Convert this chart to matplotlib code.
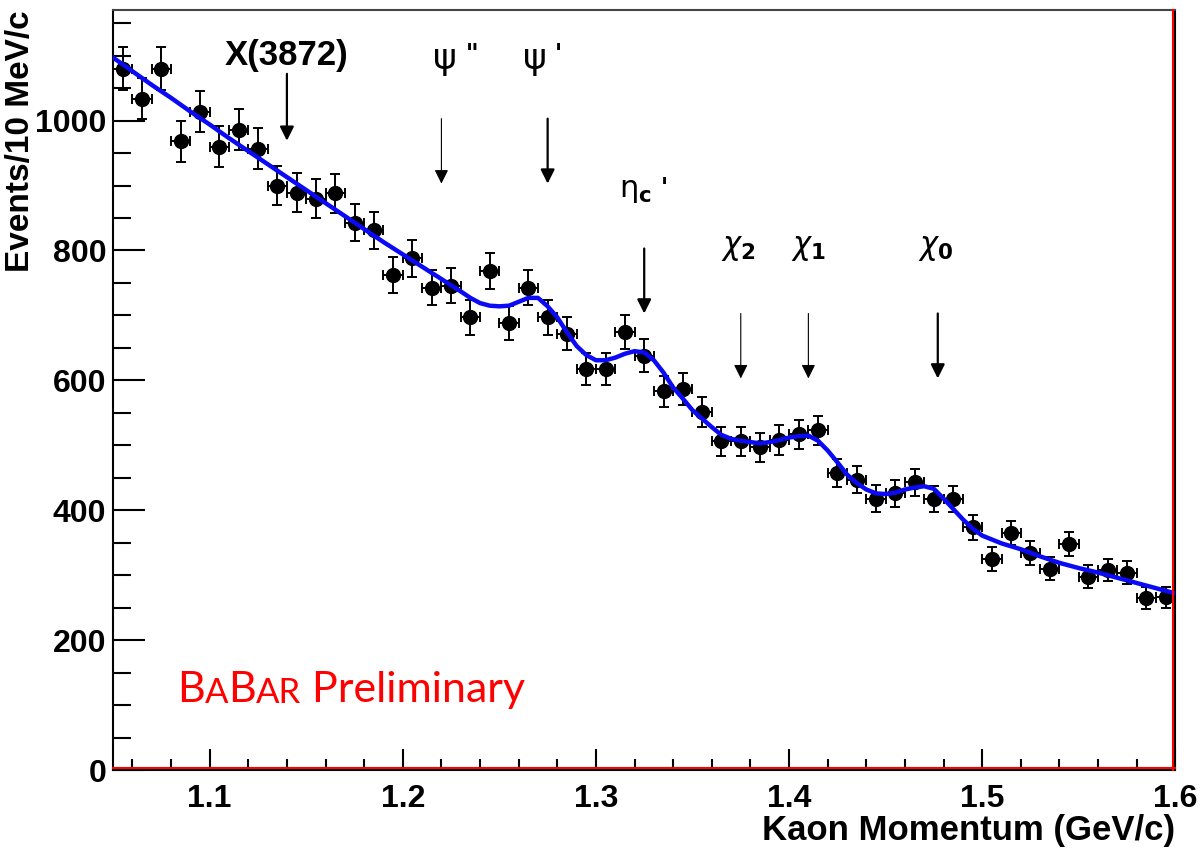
import numpy as np
import matplotlib
matplotlib.use('Agg')
import matplotlib.pyplot as plt
from matplotlib.ticker import MultipleLocator, FixedLocator
from matplotlib.transforms import offset_copy

plt.rcParams['font.family'] = ['Liberation Sans', 'DejaVu Sans']
plt.rcParams['mathtext.fontset'] = 'dejavusans'
plt.rcParams['mathtext.default'] = 'regular'

# bin centres (GeV/c) and events per 10 MeV/c
momentum = [1.055, 1.065, 1.075, 1.085, 1.095, 1.105, 1.115, 1.125, 1.135, 1.145,
            1.155, 1.165, 1.175, 1.185, 1.195, 1.205, 1.215, 1.225, 1.235, 1.245,
            1.255, 1.265, 1.275, 1.285, 1.295, 1.305, 1.315, 1.325, 1.335, 1.345,
            1.355, 1.365, 1.375, 1.385, 1.395, 1.405, 1.415, 1.425, 1.435, 1.445,
            1.455, 1.465, 1.475, 1.485, 1.495, 1.505, 1.515, 1.525, 1.535, 1.545,
            1.555, 1.565, 1.575, 1.585, 1.595]
events = [1080, 1034, 1080, 968, 1014, 960, 986, 957, 900, 889,
          880, 888, 843, 831, 762, 788, 743, 746, 697, 768,
          688, 743, 697, 672, 617, 618, 674, 638, 583, 587,
          551, 506, 506, 497, 508, 517, 523, 457, 447, 418,
          426, 443, 417, 417, 374, 325, 365, 334, 310, 348,
          298, 308, 304, 265, 266]

# fit curve
fit_x = [1.05, 1.06, 1.07, 1.08, 1.09, 1.10, 1.11, 1.12, 1.13, 1.14, 1.15, 1.16,
         1.17, 1.18, 1.19, 1.20, 1.21, 1.22, 1.23, 1.235, 1.24, 1.245, 1.25, 1.255,
         1.26, 1.265, 1.27, 1.275, 1.28, 1.285, 1.29, 1.295, 1.30, 1.305, 1.31,
         1.315, 1.32, 1.325, 1.33, 1.335, 1.34, 1.345, 1.35, 1.355, 1.36, 1.365,
         1.37, 1.375, 1.38, 1.385, 1.39, 1.395, 1.40, 1.405, 1.41, 1.415, 1.42,
         1.425, 1.43, 1.435, 1.44, 1.445, 1.45, 1.455, 1.46, 1.465, 1.47, 1.475,
         1.48, 1.485, 1.49, 1.495, 1.50, 1.51, 1.52, 1.53, 1.54, 1.55, 1.56, 1.57,
         1.58, 1.59, 1.60]
fit_y = [1097, 1076, 1055, 1035, 1014, 994, 973, 953, 933, 913, 893, 873,
         853, 833, 813, 794, 775, 756, 737, 727, 719, 715, 714, 715,
         721, 727, 727, 714, 697, 674, 653, 639, 631, 631, 635,
         641, 645, 643, 631, 612, 589, 572, 554, 541, 528, 516,
         510, 507, 505, 503, 505, 508, 512, 514, 515, 507, 492,
         474, 455, 442, 432, 426, 425, 427, 432, 435, 437, 433,
         418, 402, 386, 372, 361, 349, 340, 329, 319, 311, 304, 296,
         288, 280, 272]

# resonance markers
res_labels = ['X(3872)', 'ψ', 'ψ', '$\\eta_\\mathbf{c}$',
              '$\\mathit{\\chi}_\\mathbf{2}$', '$\\mathit{\\chi}_\\mathbf{1}$',
              '$\\mathit{\\chi}_\\mathbf{0}$']
res_primes = ['', '"', "'", "'", '', '', '']
res_x = [1.14, 1.22, 1.275, 1.325, 1.375, 1.41, 1.477]
res_label_x = [1.14, 1.2155, 1.262, 1.312, 1.3646, 1.401, 1.467]
res_label_y = [1100, 1095, 1095, 892, 803, 803, 803]
res_size = [25, 26, 26, 22, 22, 22, 22]
arrow_top = [1072, 1003, 1003, 803, 703, 703, 703]
arrow_bottom = [969, 903, 903, 703, 603, 603, 603]
arrow_lw = [1.6, 0.8, 1.6, 1.6, 0.8, 0.8, 1.6]

fig = plt.figure(figsize=(12.03, 8.49), dpi=100)
ax = fig.add_axes([0.094, 0.093, 0.883, 0.895])

ax.errorbar(momentum, events, xerr=0.005, yerr=np.sqrt(events), fmt='o',
            color='black', ms=10, elinewidth=1.4, capsize=3.5, capthick=1.4, zorder=3)
ax.plot(fit_x, fit_y, color='#0a0af5', lw=3.2, zorder=4)

for i, lab in enumerate(res_labels):
    if i == 0:
        ax.text(res_label_x[i], res_label_y[i], lab, ha='center', va='center',
                fontsize=res_size[i], fontweight='bold')
    else:
        t = ax.text(res_label_x[i], res_label_y[i], lab, ha='left', va='center',
                    fontsize=res_size[i], family=['DejaVu Sans'])
        if res_primes[i]:
            ax.annotate(' ' + res_primes[i], xy=(1, 1), xycoords=t, ha='left',
                        va='top', fontsize=18, fontweight='bold',
                        family=['DejaVu Sans'])
    ax.annotate('', xy=(res_x[i], arrow_bottom[i]), xytext=(res_x[i], arrow_top[i]),
                arrowprops=dict(arrowstyle='-|>,head_length=0.6,head_width=0.3',
                                color='black', lw=arrow_lw[i], mutation_scale=14,
                                shrinkA=0, shrinkB=0))

ax.set_xlim(1.05, 1.6)
ax.set_ylim(0, 1170)
ax.xaxis.set_major_locator(FixedLocator([1.1, 1.2, 1.3, 1.4, 1.5, 1.6]))
ax.xaxis.set_minor_locator(MultipleLocator(0.02))
ax.yaxis.set_major_locator(MultipleLocator(200))
ax.yaxis.set_minor_locator(MultipleLocator(50))
ax.set_xticklabels(['1.1', '1.2', '1.3', '1.4', '1.5', '1.6'])
ax.tick_params(axis='x', which='major', direction='in', length=15, width=1.5,
               labelsize=23, pad=10)
ax.tick_params(axis='x', which='minor', direction='in', length=8, width=1.5)
ax.tick_params(axis='y', which='major', direction='in', length=23, width=1.5,
               labelsize=23, pad=5)
ax.tick_params(axis='y', which='minor', direction='in', length=13, width=1.5)
for lab in ax.get_xticklabels() + ax.get_yticklabels():
    lab.set_fontweight('bold')

for s in ax.spines.values():
    s.set_linewidth(1.5)
    s.set_color('black')
ax.spines['top'].set_color('#444444')
# red frame lines just inside bottom and right edges
ax.plot([0, 1], [0, 0], color='red', lw=1.5, clip_on=False, zorder=5,
        transform=offset_copy(ax.transAxes, fig=fig, x=0, y=2, units='dots'))
ax.plot([1, 1], [0, 1], color='red', lw=1.5, clip_on=False, zorder=5,
        transform=offset_copy(ax.transAxes, fig=fig, x=-2, y=0, units='dots'))

fig.text(0.017, 0.988, 'Events/10 MeV/c', rotation=90, ha='center', va='top',
         fontsize=24, fontweight='bold')
fig.text(0.977, 0.022, 'Kaon Momentum (GeV/c)', ha='right', va='center',
         fontsize=25, fontweight='bold')

# "BABAR Preliminary" with small-caps A and AR
t = ax.text(0.06, 0.08, 'B', transform=ax.transAxes, color='red', fontsize=31,
            family='Lato', va='bottom', ha='left')
for piece, size in [('A', 25), ('B', 31), ('AR', 25), (' Preliminary', 31)]:
    t = ax.annotate(piece, xy=(1, 0), xycoords=t, color='red', fontsize=size,
                    family='Lato', va='bottom', ha='left')

fig.savefig('out.png', dpi=100)
